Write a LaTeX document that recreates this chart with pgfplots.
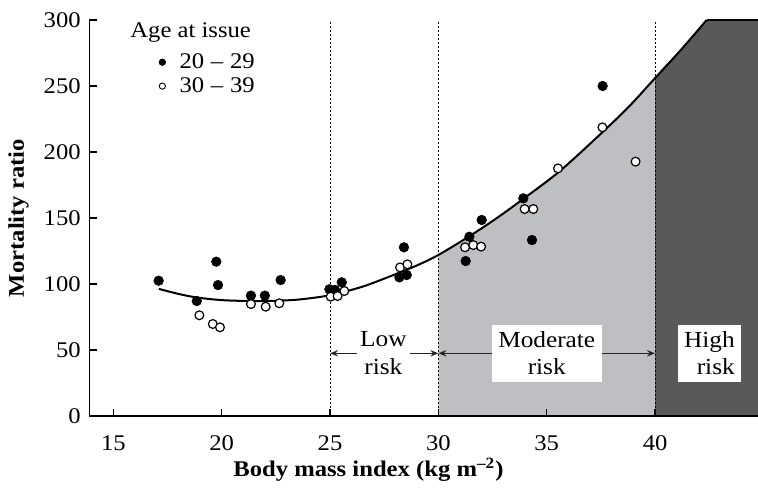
\documentclass[border=0pt]{standalone}
\usepackage{fontspec}
\setmainfont{Liberation Serif}[FakeStretch=1.1]
\usepackage{pgfplots}
\pgfplotsset{compat=1.18}
\usetikzlibrary{arrows.meta}
\definecolor{lightfill}{RGB}{190,191,195}
\definecolor{darkfill}{RGB}{88,89,91}
\begin{document}
\begin{tikzpicture}
\begin{axis}[
  scale only axis,
  width=334.35bp, height=198bp,
  xmin=13.89, xmax=44.75, ymin=0, ymax=300,
  axis x line*=bottom, axis y line*=left,
  axis line style={-, line width=0.75bp, black},
  xtick={15,20,25,30,35,40},
  ytick={0,50,100,150,200,250,300},
  tick align=inside,
  major tick length=3.7bp,
  tick style={line width=0.6bp, black},
  /pgf/number format/assume math mode=true,
  ticklabel style={font=\fontsize{11.2bp}{13bp}\selectfont},
  xticklabel style={yshift=-6.2bp},
  yticklabel style={xshift=-0.8bp},
  axis on top,
  clip=false,
  xlabel={Body mass index (kg m\textsuperscript{--2})},
  xlabel style={font=\bfseries\fontsize{11.2bp}{13bp}\selectfont, at={(axis description cs:0.4175,-0.1364)}, anchor=center},
  ylabel={Mortality ratio},
  ylabel style={font=\bfseries\fontsize{11.2bp}{13bp}\selectfont, at={(axis description cs:-0.1059,0.5)}, anchor=center},
  legend style={draw=none, fill=none, at={(axis cs:17.09,276.6)}, anchor=north west,
    font=\fontsize{11.2bp}{13bp}\selectfont, row sep=1bp, inner sep=0pt,
    nodes={inner sep=1bp},
    /tikz/every odd column/.style={column sep=6bp}},
  legend image code/.code={\draw[#1] plot coordinates {(0bp,0bp)};},
  legend cell align=left,
]
% shaded risk regions
\addplot[fill=lightfill, draw=none, forget plot] coordinates {
 (30,0) (30,122) (31.46,136.5) (32.7,150) (33.92,164.5) (35.6,185.5)
 (37.54,214.5) (38.8,234.5) (40,256) (40,0)} -- cycle;
\addplot[fill=darkfill, draw=none, forget plot] coordinates {
 (40,0) (40,256) (41.2,277.5) (42.38,300) (44.75,300) (44.75,0)} -- cycle;
\addplot[black, line width=0.75bp, forget plot] coordinates {(42.38,300) (44.75,300)};
% reference lines
\addplot[black, line width=0.5bp, dash pattern=on 1bp off 1bp, forget plot] coordinates {(25,0) (25,300)};
\addplot[black, line width=0.5bp, dash pattern=on 1bp off 1bp, forget plot] coordinates {(30,0) (30,300)};
\addplot[black, line width=0.5bp, dash pattern=on 1bp off 1bp, forget plot] coordinates {(40,0) (40,300)};
% fitted curve
\addplot[smooth, black, line width=1bp, forget plot] coordinates {
 (17.1,96.3) (18.0,92.5) (18.85,89.8) (20.0,87.8) (21.3,87.1) (22.5,87.3)
 (23.6,88.3) (25.0,91.5) (26.5,98.0) (27.8,106.0) (29.0,114.0) (30.0,122)
 (31.46,136.5) (32.7,150) (33.92,164.5) (35.6,185.5) (37.54,214.5)
 (38.8,234.5) (40,256) (41.2,277.5) (42.38,300)};
% risk arrows
\draw[line width=0.65bp, color=black!85, {Stealth[length=4bp,width=3.2bp]}-{Stealth[length=4bp,width=3.2bp]}] (axis cs:25,47.5) -- (axis cs:30,47.5);
\draw[line width=0.65bp, color=black!85, {Stealth[length=4bp,width=3.2bp]}-{Stealth[length=4bp,width=3.2bp]}] (axis cs:30,47.5) -- (axis cs:40,47.5);
\node[fill=white, inner sep=1.8bp, align=center, font=\fontsize{11.5bp}{13.8bp}\selectfont] at (axis cs:27.46,47.5) {Low\\risk};
\node[fill=white, inner sep=3.3bp, align=center, font=\fontsize{11.5bp}{13.8bp}\selectfont] at (axis cs:35.0,47.5) {Moderate\\risk};
\node[fill=white, inner sep=3.3bp, align=right, font=\fontsize{11.5bp}{13.8bp}\selectfont] at (axis cs:42.51,47.5) {High\\risk};
% data: age 20-29
\addplot[only marks, mark=*, mark size=2.4bp, mark options={fill=black, draw=black, line width=0.3bp}, forget plot] coordinates {
 (17.09,102.5) (18.85,87.1) (19.75,116.9) (19.83,99.2) (21.35,91.2) (21.99,91.2)
 (22.72,103.0) (24.97,96.0) (25.23,95.5) (25.54,101.3) (28.2,105.0) (28.41,127.8)
 (28.54,106.8) (31.26,117.4) (31.43,135.8) (32.0,148.5) (33.92,164.9) (34.32,133.3)
 (37.58,250.0)};
% data: age 30-39
\addplot[only marks, mark=*, mark size=2.2bp, mark options={fill=white, draw=black, line width=0.6bp}, forget plot] coordinates {
 (18.97,76.3) (19.59,69.7) (19.92,67.2) (21.35,84.8) (22.03,82.8) (22.66,85.4)
 (25.03,90.4) (25.35,90.9) (25.66,94.7) (28.23,112.6) (28.57,114.9) (31.23,127.8)
 (31.61,129.5) (31.97,128.3) (33.98,156.8) (34.38,156.8) (35.52,187.6) (37.57,218.7)
 (39.1,192.7)};
% legend
\addlegendimage{only marks, mark=*, mark size=1.65bp, mark options={fill=black, draw=black, line width=0.3bp}}
\addlegendentry{20\hspace{0.3em}--\hspace{0.3em}29}
\addlegendimage{only marks, mark=*, mark size=1.55bp, mark options={fill=white, draw=black, line width=0.45bp}}
\addlegendentry{30\hspace{0.3em}--\hspace{0.3em}39}
\node[anchor=base west, inner sep=0pt, font=\fontsize{11.2bp}{13bp}\selectfont] at (axis cs:15.77,286.6) {Age at issue};
\end{axis}
\pgfresetboundingbox
\path[use as bounding box] ([shift={(-44.65bp,-36bp)}]current axis.south west) rectangle ([shift={(0bp,10bp)}]current axis.north east);
\end{tikzpicture}
\end{document}
